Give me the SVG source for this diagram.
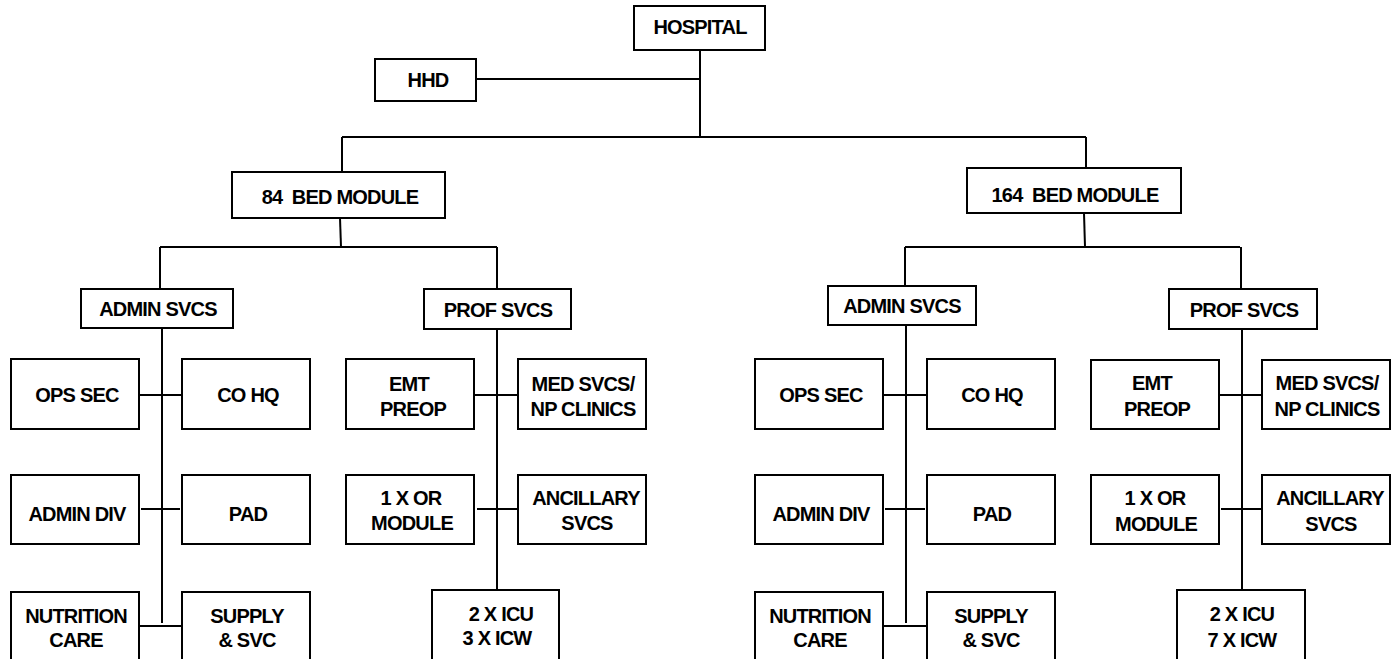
<svg xmlns="http://www.w3.org/2000/svg" width="1400" height="659" viewBox="0 0 1400 659">
  <style>
    .box { fill: #ffffff; stroke: #000000; stroke-width: 2; }
    .ln { fill: none; stroke: #000000; stroke-width: 2; }
    text { font-family: "Liberation Sans", Arial, sans-serif; font-weight: bold; font-size: 20px; letter-spacing: -0.8px; text-anchor: middle; fill: #000000; }
  </style>
  <rect width="1400" height="659" fill="#ffffff"/>

  <!-- connectors -->
  <g id="connectors" class="ln">
    <!-- top level -->
    <path d="M700,50 V137"/>
    <path d="M476,79 H700"/>
    <path d="M342,137 H1086"/>
    <path d="M342,137 V172"/>
    <path d="M1086,137 V168"/>
    <!-- 84 bed module branch -->
    <path d="M340,218 L341,247"/>
    <path d="M160,247 H497"/>
    <path d="M160,247 V289"/>
    <path d="M497,247 V289"/>
    <path d="M162,328 V623"/>
    <path d="M139,395 H182"/>
    <path d="M141,509 H180"/>
    <path d="M139,626 H182"/>
    <path d="M497,329 V590"/>
    <path d="M474,395 H518"/>
    <path d="M477,509 H517"/>
    <!-- 164 bed module branch -->
    <path d="M1084,213 L1085,247"/>
    <path d="M905,247 H1240"/>
    <path d="M905,247 V286"/>
    <path d="M1241,247 V289"/>
    <path d="M906,325 V623"/>
    <path d="M883,395 H927"/>
    <path d="M885,509 H925"/>
    <path d="M883,626 H927"/>
    <path d="M1242,329 V590"/>
    <path d="M1219,395 H1262"/>
    <path d="M1221,509 H1262"/>
  </g>

  <!-- top -->
  <g id="hospital"><rect class="box" x="634" y="6" width="131" height="44"/><text x="700" y="34">HOSPITAL</text></g>
  <g id="hhd"><rect class="box" x="375" y="59" width="101" height="42"/><text x="428" y="87">HHD</text></g>

  <!-- 84 bed module -->
  <g id="bed84"><rect class="box" x="232" y="172" width="213" height="46"/><text x="340" y="204" xml:space="preserve">84  BED MODULE</text></g>
  <g id="admin84"><rect class="box" x="81" y="289" width="152" height="39"/><text x="158" y="316">ADMIN SVCS</text></g>
  <g id="prof84"><rect class="box" x="424" y="289" width="147" height="40"/><text x="498" y="317">PROF SVCS</text></g>
  <g id="opssec84"><rect class="box" x="11" y="359" width="128" height="70"/><text x="77" y="402">OPS SEC</text></g>
  <g id="cohq84"><rect class="box" x="182" y="359" width="128" height="70"/><text x="248" y="402">CO HQ</text></g>
  <g id="admindiv84"><rect class="box" x="11" y="475" width="128" height="69"/><text x="77" y="521">ADMIN DIV</text></g>
  <g id="pad84"><rect class="box" x="182" y="475" width="128" height="69"/><text x="248" y="521">PAD</text></g>
  <g id="nutrition84"><rect class="box" x="11" y="592" width="128" height="90"/><text x="76" y="623">NUTRITION</text><text x="76" y="647">CARE</text></g>
  <g id="supply84"><rect class="box" x="182" y="592" width="128" height="90"/><text x="247" y="623">SUPPLY</text><text x="247" y="647">&amp; SVC</text></g>
  <g id="emt84"><rect class="box" x="346" y="359" width="128" height="70"/><text x="409" y="391">EMT</text><text x="413" y="416">PREOP</text></g>
  <g id="medsvcs84"><rect class="box" x="518" y="359" width="128" height="70"/><text x="583" y="391">MED SVCS/</text><text x="583" y="416">NP CLINICS</text></g>
  <g id="or84"><rect class="box" x="346" y="475" width="128" height="69"/><text x="411" y="505">1 X OR</text><text x="412" y="530">MODULE</text></g>
  <g id="ancillary84"><rect class="box" x="518" y="475" width="128" height="69"/><text x="586" y="505">ANCILLARY</text><text x="587" y="530">SVCS</text></g>
  <g id="icu84"><rect class="box" x="432" y="590" width="127" height="92"/><text x="501" y="621">2 X ICU</text><text x="497" y="645">3 X ICW</text></g>

  <!-- 164 bed module -->
  <g id="bed164"><rect class="box" x="967" y="168" width="214" height="45"/><text x="1075" y="202" xml:space="preserve">164  BED MODULE</text></g>
  <g id="admin164"><rect class="box" x="828" y="286" width="148" height="39"/><text x="902" y="313">ADMIN SVCS</text></g>
  <g id="prof164"><rect class="box" x="1169" y="289" width="148" height="40"/><text x="1244" y="317">PROF SVCS</text></g>
  <g id="opssec164"><rect class="box" x="755" y="359" width="128" height="70"/><text x="821" y="402">OPS SEC</text></g>
  <g id="cohq164"><rect class="box" x="927" y="359" width="128" height="70"/><text x="992" y="402">CO HQ</text></g>
  <g id="admindiv164"><rect class="box" x="755" y="475" width="128" height="69"/><text x="821" y="521">ADMIN DIV</text></g>
  <g id="pad164"><rect class="box" x="927" y="475" width="128" height="69"/><text x="992" y="521">PAD</text></g>
  <g id="nutrition164"><rect class="box" x="755" y="592" width="128" height="90"/><text x="820" y="623">NUTRITION</text><text x="820" y="647">CARE</text></g>
  <g id="supply164"><rect class="box" x="927" y="592" width="128" height="90"/><text x="991" y="623">SUPPLY</text><text x="991" y="647">&amp; SVC</text></g>
  <g id="emt164"><rect class="box" x="1091" y="360" width="128" height="69"/><text x="1152" y="390">EMT</text><text x="1157" y="416">PREOP</text></g>
  <g id="medsvcs164"><rect class="box" x="1262" y="360" width="128" height="69"/><text x="1327" y="390">MED SVCS/</text><text x="1327" y="416">NP CLINICS</text></g>
  <g id="or164"><rect class="box" x="1091" y="475" width="128" height="69"/><text x="1155" y="505">1 X OR</text><text x="1156" y="531">MODULE</text></g>
  <g id="ancillary164"><rect class="box" x="1262" y="475" width="128" height="69"/><text x="1330" y="505">ANCILLARY</text><text x="1331" y="531">SVCS</text></g>
  <g id="icu164"><rect class="box" x="1177" y="590" width="128" height="92"/><text x="1242" y="621">2 X ICU</text><text x="1242" y="647">7 X ICW</text></g>
</svg>
